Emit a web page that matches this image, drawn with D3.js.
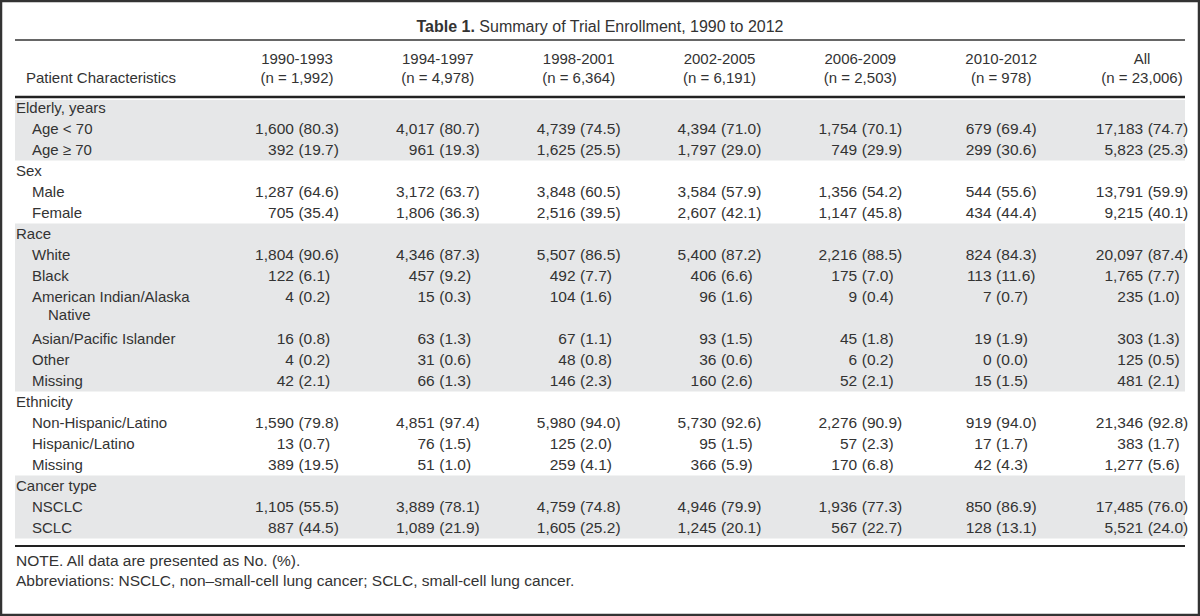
<!DOCTYPE html>
<html><head><meta charset="utf-8">
<script src="https://cdn.jsdelivr.net/npm/d3@7"></script>
<style>
html,body{margin:0;padding:0;background:#fff;}
svg{display:block;}
text{font-family:"Liberation Sans",Arial,Helvetica,sans-serif;fill:#333;}
</style></head>
<body>
<svg id="chart" width="1200" height="616"></svg>
<script>
// ---------- data ----------
const titleBold = "Table 1.";
const titleRest = " Summary of Trial Enrollment, 1990 to 2012";
const periods = ["1990-1993","1994-1997","1998-2001","2002-2005","2006-2009","2010-2012","All"];
const periodN = ["(n = 1,992)","(n = 4,978)","(n = 6,364)","(n = 6,191)","(n = 2,503)","(n = 978)","(n = 23,006)"];
const groupNames = ["Elderly, years","Sex","Race","Ethnicity","Cancer type"];
const rowLabels = ["Age < 70","Age \u2265 70","Male","Female","White","Black","American Indian/Alaska|Native","Asian/Pacific Islander","Other","Missing","Non-Hispanic/Latino","Hispanic/Latino","Missing","NSCLC","SCLC"];
const rowGroup = [0,0,1,1,2,2,2,2,2,2,3,3,3,4,4];
const counts = [
  [1600,4017,4739,4394,1754,679,17183],
  [392,961,1625,1797,749,299,5823],
  [1287,3172,3848,3584,1356,544,13791],
  [705,1806,2516,2607,1147,434,9215],
  [1804,4346,5507,5400,2216,824,20097],
  [122,457,492,406,175,113,1765],
  [4,15,104,96,9,7,235],
  [16,63,67,93,45,19,303],
  [4,31,48,36,6,0,125],
  [42,66,146,160,52,15,481],
  [1590,4851,5980,5730,2276,919,21346],
  [13,76,125,95,57,17,383],
  [389,51,259,366,170,42,1277],
  [1105,3889,4759,4946,1936,850,17485],
  [887,1089,1605,1245,567,128,5521]
];
const percents = [
  [80.3,80.7,74.5,71.0,70.1,69.4,74.7],
  [19.7,19.3,25.5,29.0,29.9,30.6,25.3],
  [64.6,63.7,60.5,57.9,54.2,55.6,59.9],
  [35.4,36.3,39.5,42.1,45.8,44.4,40.1],
  [90.6,87.3,86.5,87.2,88.5,84.3,87.4],
  [6.1,9.2,7.7,6.6,7.0,11.6,7.7],
  [0.2,0.3,1.6,1.6,0.4,0.7,1.0],
  [0.8,1.3,1.1,1.5,1.8,1.9,1.3],
  [0.2,0.6,0.8,0.6,0.2,0.0,0.5],
  [2.1,1.3,2.3,2.6,2.1,1.5,2.1],
  [79.8,97.4,94.0,92.6,90.9,94.0,92.8],
  [0.7,1.5,2.0,1.5,2.3,1.7,1.7],
  [19.5,1.0,4.1,5.9,6.8,4.3,5.6],
  [55.5,78.1,74.8,79.9,77.3,86.9,76.0],
  [44.5,21.9,25.2,20.1,22.7,13.1,24.0]
];
const headerLabel = "Patient Characteristics";
const notes = ["NOTE. All data are presented as No. (%).",
  "Abbreviations: NSCLC, non\u2013small-cell lung cancer; SCLC, small-cell lung cancer."];

// ---------- layout ----------
const svg = d3.select("#chart");
const W = 1200, H = 616;
const left = 15, right = 1185;
const fsText = 15, fsNum = 15.5;
const fmtN = d3.format(",");
const fmtP = d3.format(".1f");

const lines = [];
groupNames.forEach((g, gi) => {
  lines.push({type:"group", label:g, group:gi});
  rowLabels.forEach((r, ri) => {
    if (rowGroup[ri] !== gi) return;
    const parts = r.split("|");
    lines.push({type:"row", label:parts[0], group:gi, row:ri});
    if (parts[1]) lines.push({type:"cont", label:parts[1], group:gi});
  });
});
const y = d3.scaleLinear().domain([0, lines.length - 1]).range([108, 528]);
const pitch = y(1) - y(0);
const x = d3.scalePoint().domain(periods).range([297, 1142]);

// frame
svg.append("rect").attr("x",1).attr("y",1).attr("width",W-2).attr("height",H-2)
  .attr("fill","#fff").attr("stroke","#333").attr("stroke-width",2.5);

// bands
groupNames.forEach((g, gi) => {
  if (gi % 2 !== 0) return;
  const idx = lines.map((l,i)=>l.group===gi?i:-1).filter(i=>i>=0);
  const top = Math.max(y(idx[0]) - pitch/2, 100);
  const bot = y(idx[idx.length-1]) + pitch/2;
  svg.append("rect").attr("x",left).attr("y",top).attr("width",right-left).attr("height",bot-top)
    .attr("fill","#e6e7e8");
});

// title
const t = svg.append("text").attr("x",600).attr("y",26).attr("dy","0.35em")
  .attr("text-anchor","middle").style("font-size","16px");
t.append("tspan").attr("font-weight","bold").text(titleBold);
t.append("tspan").text(titleRest);

// rules
svg.append("line").attr("x1",left).attr("x2",right).attr("y1",40).attr("y2",40)
  .attr("stroke","#333").attr("stroke-width",1.5);
svg.append("line").attr("x1",left).attr("x2",right).attr("y1",97).attr("y2",97)
  .attr("stroke","#222").attr("stroke-width",2.5);
svg.append("line").attr("x1",left).attr("x2",right).attr("y1",546).attr("y2",546)
  .attr("stroke","#222").attr("stroke-width",2);

// header
svg.append("text").attr("x",26).attr("y",78).attr("dy","0.35em").style("font-size",fsText+"px").text(headerLabel);
svg.selectAll("text.hd1").data(periods).join("text").attr("class","hd1")
  .attr("x",d=>x(d)).attr("y",59).attr("dy","0.35em").attr("text-anchor","middle")
  .style("font-size",fsText+"px").text(d=>d);
svg.selectAll("text.hd2").data(periodN).join("text").attr("class","hd2")
  .attr("x",(d,i)=>x(periods[i])).attr("y",78).attr("dy","0.35em").attr("text-anchor","middle")
  .style("font-size",fsText+"px").text(d=>d);

// labels
svg.selectAll("text.lab").data(lines).join("text").attr("class","lab")
  .attr("x",d=>d.type==="group"?16:(d.type==="row"?32:48))
  .attr("y",(d,i)=>y(i) - (d.type==="cont"?3:0)).attr("dy","0.35em")
  .style("font-size",fsText+"px").text(d=>d.label);

// values aligned at the opening parenthesis, block centred under header
const rowLines = lines.map((l,i)=>({l,i})).filter(o=>o.l.type==="row");
const gap = 4.5;
periods.forEach((p, ci) => {
  const g = svg.append("g");
  const cT = g.selectAll("text.c").data(rowLines).join("text").attr("class","c")
    .attr("y",o=>y(o.i)).attr("dy","0.35em").attr("text-anchor","end")
    .style("font-size",fsNum+"px").text(o=>fmtN(counts[o.l.row][ci]));
  const pT = g.selectAll("text.p").data(rowLines).join("text").attr("class","p")
    .attr("y",o=>y(o.i)).attr("dy","0.35em").attr("text-anchor","start")
    .style("font-size",fsNum+"px").text(o=>"(" + fmtP(percents[o.l.row][ci]) + ")");
  const cw = d3.max(cT.nodes(), n=>n.getComputedTextLength());
  const pw = d3.max(pT.nodes(), n=>n.getComputedTextLength());
  const startX = x(p) - (cw + gap + pw)/2;
  cT.attr("x", startX + cw);
  pT.attr("x", startX + cw + gap);
});

// notes
svg.selectAll("text.note").data(notes).join("text").attr("class","note")
  .attr("x",16).attr("y",(d,i)=>561 + i*20).attr("dy","0.35em")
  .style("font-size","15.5px").text(d=>d);
</script>
</body></html>
